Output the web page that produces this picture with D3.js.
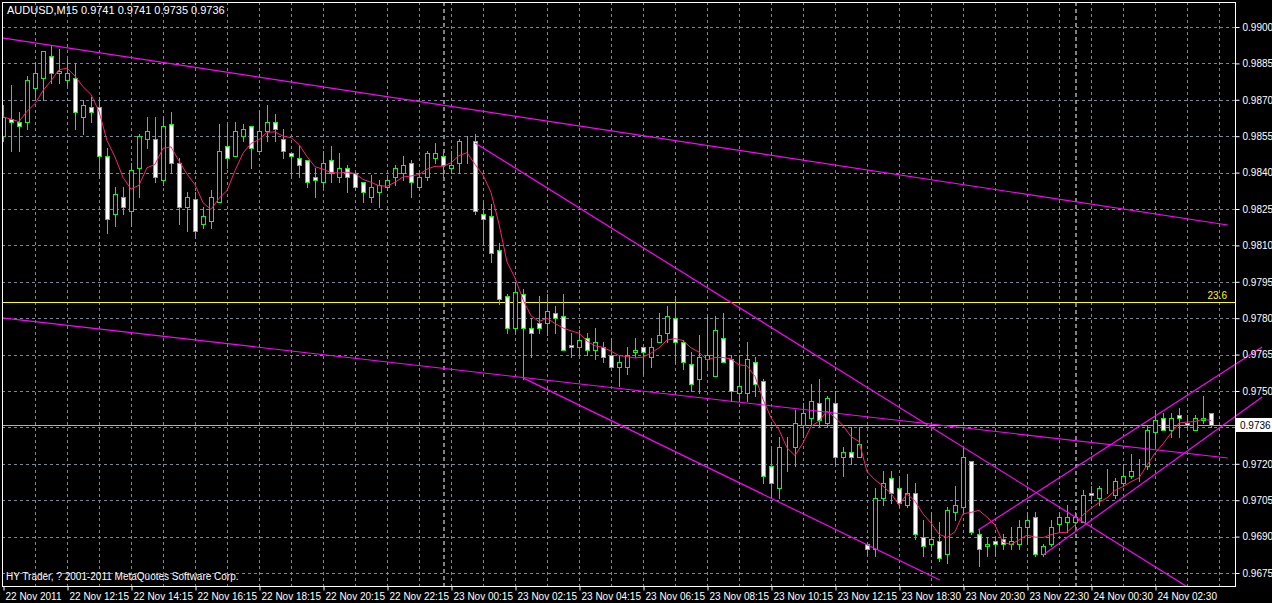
<!DOCTYPE html>
<html><head><meta charset="utf-8">
<script src="https://cdn.jsdelivr.net/npm/d3@7"></script>
<style>body{margin:0;background:#000}svg{display:block}text{font-family:"Liberation Sans",Arial,sans-serif;font-size:10px}</style>
</head><body><svg id="c" width="1272" height="603"></svg>
<script>
const symbolTitle = "AUDUSD,M15  0.9741 0.9741 0.9735 0.9736";
const footer = "HY Trader, ? 2001-2011 MetaQuotes Software Corp.";
const opens = [9855,9862,9861,9861,9875,9879,9888,9881,9878,9879,9863,9867,9867,9847,9823,9830,9824,9842,9854,9854,9837,9860,9844,9826,9829,9819,9820,9828,9851,9847,9855,9859,9849,9857,9861,9854,9848,9846,9845,9838,9836,9845,9838,9842,9840,9836,9830,9832,9834,9838,9840,9844,9834,9838,9846,9847,9842,9844,9854,9853,9823,9822,9808,9789,9776,9790,9776,9778,9778,9782,9781,9769,9768,9772,9767,9768,9765,9760,9760,9766,9768,9764,9770,9774,9780,9770,9761,9755,9763,9756,9772,9763,9749,9749,9762,9754,9719,9710,9726,9727,9736,9739,9745,9737,9745,9723,9725,9723,9687,9685,9706,9714,9710,9703,9708,9690,9687,9688,9683,9700,9702,9721,9691,9686,9688,9689,9687,9687,9694,9698,9683,9687,9695,9696,9696,9696,9708,9706,9708,9707,9712,9715,9718,9719,9733,9739,9734,9740,9737,9734,9738,9741];
const highs = [9868,9876,9865,9880,9885,9890,9892,9891,9887,9885,9870,9871,9871,9850,9834,9834,9844,9856,9863,9863,9863,9865,9846,9832,9832,9826,9833,9860,9860,9861,9860,9859,9866,9868,9864,9858,9848,9851,9845,9842,9849,9851,9848,9843,9840,9836,9839,9837,9839,9843,9847,9845,9840,9849,9852,9849,9849,9854,9855,9856,9828,9827,9811,9790,9795,9792,9780,9789,9790,9785,9790,9774,9775,9774,9776,9770,9772,9765,9768,9772,9768,9772,9782,9785,9789,9771,9766,9773,9781,9781,9782,9765,9765,9770,9764,9755,9726,9731,9731,9742,9745,9753,9755,9748,9750,9727,9735,9735,9687,9710,9717,9717,9715,9716,9712,9697,9700,9696,9702,9711,9727,9721,9693,9690,9690,9691,9694,9697,9700,9700,9687,9697,9700,9703,9700,9709,9711,9711,9718,9714,9720,9724,9722,9736,9741,9741,9741,9743,9740,9740,9748,9741];
const lows = [9853,9849,9849,9858,9871,9870,9877,9877,9876,9858,9856,9861,9838,9815,9818,9823,9818,9830,9850,9836,9835,9840,9819,9816,9813,9817,9817,9828,9842,9847,9853,9842,9849,9853,9853,9846,9838,9838,9834,9830,9834,9836,9836,9832,9833,9828,9828,9826,9833,9835,9837,9830,9833,9837,9844,9838,9840,9840,9844,9823,9810,9803,9786,9774,9774,9755,9764,9774,9773,9774,9767,9764,9765,9765,9763,9762,9760,9752,9757,9764,9757,9760,9770,9770,9762,9759,9750,9749,9759,9756,9762,9746,9746,9746,9748,9712,9706,9706,9717,9719,9731,9736,9735,9735,9720,9715,9720,9723,9683,9682,9703,9704,9702,9702,9689,9682,9685,9680,9679,9697,9700,9691,9678,9682,9682,9685,9685,9685,9687,9682,9682,9686,9692,9692,9694,9696,9704,9703,9708,9706,9711,9714,9713,9718,9727,9734,9731,9731,9734,9734,9737,9735];
const closes = [9863,9861,9859,9878,9881,9890,9881,9882,9881,9865,9868,9865,9847,9821,9831,9826,9841,9855,9857,9838,9859,9844,9826,9830,9816,9822,9830,9849,9846,9857,9858,9850,9857,9861,9858,9849,9847,9843,9836,9837,9844,9840,9842,9838,9834,9832,9834,9835,9837,9842,9843,9836,9838,9848,9848,9843,9843,9853,9854,9824,9821,9807,9788,9776,9791,9776,9774,9776,9783,9780,9767,9768,9771,9767,9770,9764,9760,9762,9765,9767,9766,9768,9773,9781,9770,9762,9753,9764,9765,9775,9762,9750,9752,9763,9753,9715,9712,9727,9726,9737,9741,9746,9738,9747,9723,9725,9723,9728,9685,9706,9712,9708,9704,9708,9691,9686,9689,9681,9701,9703,9723,9692,9685,9687,9687,9687,9688,9694,9697,9683,9686,9694,9698,9698,9698,9707,9707,9710,9708,9713,9715,9717,9718,9734,9738,9734,9739,9739,9736,9739,9739,9736];
const priceTicks = [0.9900,0.9885,0.9870,0.9855,0.9840,0.9825,0.9810,0.9795,0.9780,0.9765,0.9750,0.9735,0.9720,0.9705,0.9690,0.9675];
const timeTickBars = [0,8,16,24,32,40,48,56,64,72,80,88,96,104,112,120,128,136,144];
const timeLabels = ["22 Nov 2011","22 Nov 12:15","22 Nov 14:15","22 Nov 16:15","22 Nov 18:15","22 Nov 20:15","22 Nov 22:15","23 Nov 00:15","23 Nov 02:15","23 Nov 04:15","23 Nov 06:15","23 Nov 08:15","23 Nov 10:15","23 Nov 12:15","23 Nov 18:30","23 Nov 20:30","23 Nov 22:30","24 Nov 00:30","24 Nov 02:30"];
const separatorBars = [55, 134];
const maPeriod = 5;
const currentPrice = 0.9736;
const fibLevel = 0.97867, fibLabel = "23.6";
// trend lines: [barIndex1, price1, barIndex2, price2]
const trendLines = [
  [-0.125,0.98955,153.1,0.98184],
  [-0.125,0.97801,153.1,0.97224],
  [59,0.98522,153.1,0.96589],
  [65,0.97554,117.1,0.96721],
  [121.9,0.96927,157.4,0.97681],
  [130,0.96824,157.4,0.97475]
];

const W=1272,H=603,L=2,R=1235,T=2,B=586;
const svg=d3.select("#c");
svg.append("rect").attr("width",W).attr("height",H).attr("fill","#000");
const x=d3.scaleLinear().domain([0,151]).range([3,1211]);
const y=d3.scaleLinear().domain([0.9675,0.9900]).range([573,27]);
const bars=d3.range(opens.length).map(i=>({i,o:opens[i]/1e4,h:highs[i]/1e4,l:lows[i]/1e4,c:closes[i]/1e4}));
const px=v=>Math.round(v)+0.5;

svg.append("clipPath").attr("id","pc").append("rect").attr("x",L).attr("y",T).attr("width",R-L).attr("height",B-T);
svg.append("clipPath").attr("id","tc").append("rect").attr("x",L).attr("y",T).attr("width",1265-L).attr("height",B-T);

const g=svg.append("g").attr("clip-path","url(#pc)");
const gridCol="#778899";
g.selectAll(".hg").data(priceTicks).join("line").attr("x1",L).attr("x2",R).attr("y1",d=>px(y(d))).attr("y2",d=>px(y(d)))
 .attr("stroke",gridCol).attr("stroke-dasharray","3,3");
g.selectAll(".vg").data(d3.range(4,153,4)).join("line").attr("x1",d=>px(x(d))).attr("x2",d=>px(x(d))).attr("y1",T).attr("y2",B)
 .attr("stroke",gridCol).attr("stroke-dasharray","3,3");
g.selectAll(".sep").data(separatorBars).join("line").attr("x1",d=>px(x(d))+0.5).attr("x2",d=>px(x(d))+0.5).attr("y1",T).attr("y2",B)
 .attr("stroke","#fff").attr("stroke-dasharray","4,3");
g.append("line").attr("x1",L).attr("x2",R).attr("y1",px(y(fibLevel))).attr("y2",px(y(fibLevel))).attr("stroke","#ffff00");
g.append("line").attr("x1",L).attr("x2",R).attr("y1",px(y(currentPrice))).attr("y2",px(y(currentPrice))).attr("stroke","#b0b0b0");
const cg=g.append("g").attr("shape-rendering","crispEdges");
cg.selectAll(".w").data(bars).join("line").attr("x1",d=>px(x(d.i))).attr("x2",d=>px(x(d.i)))
 .attr("y1",d=>Math.round(y(d.h))).attr("y2",d=>Math.round(y(d.l))+1).attr("stroke","#00ff00");
cg.selectAll(".b").data(bars).join("rect")
 .attr("x",d=>Math.round(x(d.i))-2+0.5).attr("width",4)
 .attr("y",d=>Math.round(y(Math.max(d.o,d.c)))+0.5)
 .attr("height",d=>Math.max(0,Math.round(y(Math.min(d.o,d.c)))-Math.round(y(Math.max(d.o,d.c)))))
 .attr("fill",d=>d.c<d.o?"#fff":"#000").attr("stroke","#00ff00");
const ma=bars.map((d,i)=>{const s=closes.slice(Math.max(0,i-maPeriod+1),i+1);return {i,v:d3.mean(s)/1e4};});
g.append("path").datum(ma).attr("d",d3.line().x(d=>x(d.i)).y(d=>y(d.v))).attr("fill","none").attr("stroke","#ff1e78").attr("stroke-width",1);
svg.append("g").attr("clip-path","url(#tc)").selectAll("line").data(trendLines).join("line")
 .attr("x1",d=>x(d[0])).attr("y1",d=>y(d[1])).attr("x2",d=>x(d[2])).attr("y2",d=>y(d[3]))
 .attr("stroke","#ff00ff").attr("stroke-width",1.2);
svg.append("rect").attr("x",L+0.5).attr("y",T+0.5).attr("width",R-L).attr("height",B-T).attr("fill","none").attr("stroke","#fff").attr("shape-rendering","crispEdges");
const ya=svg.append("g").attr("transform",`translate(${R+0.5},0)`).call(d3.axisRight(y).tickValues(priceTicks).tickFormat(d3.format(".4f")).tickSize(4).tickPadding(3));
ya.select(".domain").remove();
ya.selectAll("line").attr("stroke","#fff");
ya.selectAll("text").attr("fill","#fff").style("font-size","10px");
svg.append("rect").attr("x",R+1).attr("y",y(currentPrice)-7).attr("width",W-R-1).attr("height",14).attr("fill","#fff");
svg.append("text").attr("x",R+5).attr("y",y(currentPrice)+4).attr("fill","#000").text(d3.format(".4f")(currentPrice));
svg.append("text").attr("x",R-8).attr("y",y(fibLevel)-3).attr("text-anchor","end").attr("fill","#ffff00").text(fibLabel);
const xa=svg.append("g").attr("transform",`translate(0,${B+0.5})`).call(d3.axisBottom(x).tickValues(timeTickBars).tickFormat((d,i)=>timeLabels[i]).tickSize(4).tickPadding(2));
xa.select(".domain").remove();
xa.selectAll("line").attr("stroke","#fff").attr("transform","translate(0.5,0)");
xa.selectAll("text").attr("fill","#fff").attr("text-anchor","start").attr("dx","2").style("font-size","10px");
svg.append("text").attr("x",7).attr("y",14).attr("fill","#fff").style("font-size","11px").text(symbolTitle);
svg.append("text").attr("x",6).attr("y",580).attr("fill","#fff").text(footer);
</script></body></html>
